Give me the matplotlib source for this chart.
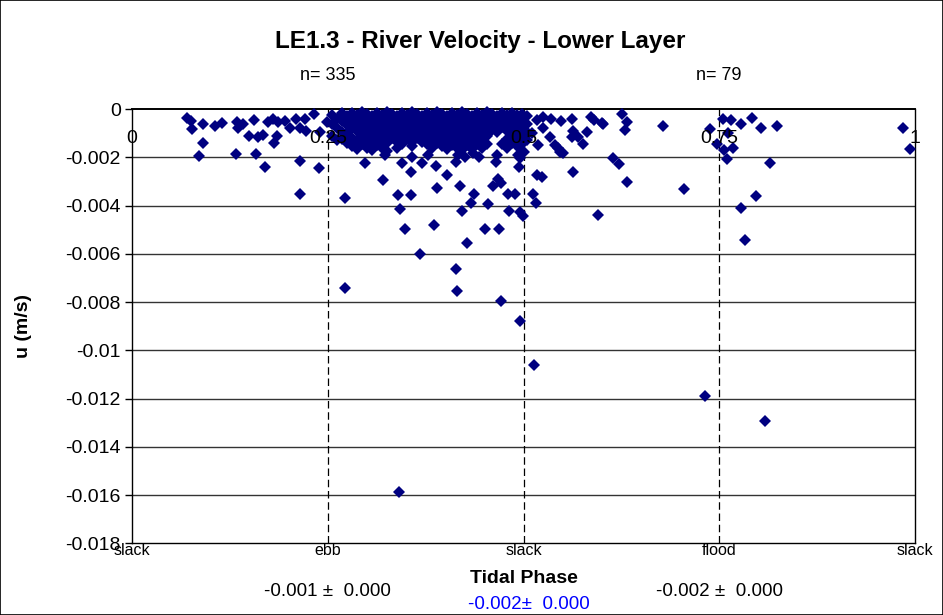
import matplotlib.pyplot as plt

# dense cluster around ebb -> slack, one column per phase, u in m/s
core_phase = [0.2554, 0.2618, 0.2682, 0.2746, 0.2810, 0.2874, 0.2937, 0.3001,
              0.3065, 0.3129, 0.3193, 0.3257, 0.3321, 0.3384, 0.3448, 0.3512,
              0.3576, 0.3640, 0.3704, 0.3768, 0.3831, 0.3895, 0.3959, 0.4023,
              0.4087, 0.4151, 0.4215, 0.4278, 0.4342, 0.4406, 0.4470, 0.4534,
              0.4598, 0.4662, 0.4725, 0.4789, 0.4853, 0.4917, 0.4981, 0.5045]
core_u = [
    [-0.00025, -0.0006, -0.0011],
    [-0.0004, -0.0008, -0.0013],
    [-0.00015, -0.0005, -0.00095, -0.00125],
    [-0.0003, -0.00065, -0.001, -0.0014],
    [-0.00015, -0.00045, -0.0008, -0.0012, -0.00155],
    [-0.00025, -0.0006, -0.0009, -0.0013, -0.00165],
    [-0.00012, -0.0004, -0.00075, -0.0011, -0.00145],
    [-0.0002, -0.00055, -0.0009, -0.00125, -0.0016],
    [-0.0003, -0.00065, -0.001, -0.00135, -0.0017],
    [-0.00015, -0.00045, -0.0008, -0.00115, -0.0015],
    [-0.00025, -0.00055, -0.00095, -0.0013, -0.0016],
    [-0.00012, -0.0004, -0.0007, -0.00105, -0.0014, -0.00175],
    [-0.0002, -0.0005, -0.00085, -0.0012],
    [-0.0003, -0.0006, -0.00095, -0.00135, -0.0016],
    [-0.00015, -0.00045, -0.00075, -0.0011, -0.00145],
    [-0.00025, -0.00055, -0.0009, -0.00125],
    [-0.00012, -0.0004, -0.0007, -0.001, -0.00135, -0.00155],
    [-0.0002, -0.0005, -0.00085, -0.0012],
    [-0.0003, -0.00065, -0.001, -0.00135],
    [-0.00015, -0.00045, -0.00075, -0.0011, -0.00145],
    [-0.00025, -0.0006, -0.0009, -0.00125, -0.0016],
    [-0.00012, -0.0004, -0.0007, -0.00105, -0.0014],
    [-0.0002, -0.00055, -0.00085, -0.0012, -0.00155],
    [-0.0003, -0.00065, -0.001, -0.0013, -0.00165],
    [-0.00015, -0.00045, -0.0008, -0.00115, -0.0015],
    [-0.00025, -0.00055, -0.0009, -0.00125, -0.0016],
    [-0.00012, -0.0004, -0.0007, -0.00105, -0.0014, -0.0017],
    [-0.0002, -0.0005, -0.00085, -0.0012, -0.0015],
    [-0.0003, -0.00065, -0.00095, -0.0013, -0.00165],
    [-0.00015, -0.00045, -0.0008, -0.0011, -0.00145],
    [-0.00025, -0.0006, -0.0009, -0.00125, -0.0016],
    [-0.00012, -0.0004, -0.00075, -0.0011, -0.00145],
    [-0.0002, -0.0005, -0.00085],
    [-0.0003, -0.0006, -0.00095],
    [-0.00015, -0.00045, -0.00075, -0.00145],
    [-0.00025, -0.00055, -0.0009, -0.00125, -0.0016],
    [-0.00015, -0.0004, -0.0007, -0.00105, -0.0014],
    [-0.00025, -0.00055, -0.0009, -0.00125, -0.00155],
    [-0.0002, -0.00045, -0.0008, -0.00115, -0.00145, -0.00175],
    [-0.0003, -0.0006, -0.00095, -0.0013],
]

# scattered points, read one by one
scatter_phase = [
    0.0706, 0.0750, 0.0760, 0.0910, 0.1060, 0.1146, 0.1337, 0.1358, 0.1421, 0.1558,
    0.1498, 0.1613, 0.1677, 0.1733, 0.1797, 0.1848, 0.1814, 0.1868, 0.1954, 0.2018,
    0.2094, 0.2146, 0.2210, 0.2222, 0.2324, 0.2401, 0.2487, 0.0910, 0.0852, 0.1324,
    0.1580, 0.1699, 0.2146, 0.2388, 0.2146,
    0.2720, 0.3210, 0.3400, 0.3444, 0.3570, 0.3560, 0.3560, 0.2976, 0.3230, 0.3700,
    0.3423, 0.3487, 0.3860, 0.3680, 0.4210, 0.4325, 0.4370, 0.4543, 0.4274, 0.4510,
    0.4690, 0.4806, 0.4890, 0.4820, 0.4955, 0.4990, 0.5117, 0.5160, 0.4138, 0.4155,
    0.4709, 0.4958, 0.3899, 0.4606, 0.2720, 0.3406, 0.5132,
    0.3882, 0.4018, 0.4189, 0.4679, 0.4649, 0.4946, 0.4138, 0.4250, 0.4433, 0.4955,
    0.5005, 0.4709, 0.3780, 0.4163, 0.4355, 0.4660, 0.4930,
    0.5615, 0.5862, 0.5904, 0.5999, 0.5807, 0.5628, 0.5615, 0.5692, 0.5764, 0.5475,
    0.5347, 0.5253, 0.5168, 0.5253, 0.5338, 0.5402, 0.5444, 0.5500, 0.5189, 0.5104,
    0.6140, 0.6220, 0.5628, 0.5168, 0.5240, 0.6318, 0.5466,
    0.6262, 0.6326, 0.6296, 0.6011, 0.6782, 0.5947, 0.7050,
    0.7382, 0.7544, 0.7646, 0.7778, 0.7914, 0.8033, 0.8233, 0.7475, 0.7560, 0.7680,
    0.7603, 0.7616, 0.8148, 0.9843, 0.9936, 0.7969, 0.7774, 0.7833, 0.7318, 0.8088,
]
scatter_u = [
    -0.00035, -0.00049, -0.00082, -0.00063, -0.00068, -0.00058, -0.00052, -0.00077, -0.00063, -0.00046,
    -0.0011, -0.00117, -0.00107, -0.00054, -0.0004, -0.0011, -0.00142, -0.00054, -0.00049, -0.00079,
    -0.0004, -0.00079, -0.0004, -0.0009, -0.00021, -0.00096, -0.00052, -0.00142, -0.00195, -0.00188,
    -0.00188, -0.00239, -0.00215, -0.00246, -0.00353,
    -0.00368, -0.00295, -0.00357, -0.00225, -0.00197, -0.0026, -0.00357, -0.00225, -0.0019, -0.00225,
    -0.00415, -0.00496, -0.00479, -0.006, -0.00423, -0.00389, -0.00353, -0.00395, -0.00554, -0.00496,
    -0.00496, -0.00353, -0.00353, -0.00423, -0.00427, -0.00445, -0.00353, -0.00389, -0.00663, -0.00753,
    -0.00795, -0.00878, -0.00327, -0.00318, -0.00742, -0.01589, -0.01061,
    -0.00235, -0.00274, -0.00318, -0.00288, -0.00221, -0.00239, -0.00218, -0.00197, -0.00197, -0.00204,
    -0.00178, -0.00308, -0.0019, -0.0019, -0.0018, -0.0019, -0.0019,
    -0.0004, -0.00031, -0.00045, -0.00058, -0.00096, -0.0009, -0.00114, -0.00114, -0.00146, -0.00049,
    -0.0004, -0.00031, -0.00045, -0.00079, -0.00114, -0.00149, -0.00163, -0.00181, -0.00149, -0.001,
    -0.00204, -0.00228, -0.0026, -0.00274, -0.00281, -0.00302, -0.00177,
    -0.0002, -0.00052, -0.00086, -0.00061, -0.00068, -0.0044, -0.00333,
    -0.00082, -0.0004, -0.00047, -0.00061, -0.00035, -0.00079, -0.00068, -0.00146, -0.0017, -0.0016,
    -0.00208, -0.001, -0.00222, -0.00079, -0.00167, -0.0036, -0.00408, -0.00542, -0.01188, -0.01295,
]

phase_ticks = [0, 0.25, 0.5, 0.75, 1]
phase_names = ['slack', 'ebb', 'slack', 'flood', 'slack']
u_ticks = [0, -0.002, -0.004, -0.006, -0.008, -0.01, -0.012, -0.014, -0.016, -0.018]
u_labels = ['0', '-0.002', '-0.004', '-0.006', '-0.008', '-0.01', '-0.012', '-0.014', '-0.016', '-0.018']
divider_phase = [0.25, 0.5, 0.75]
count_text = ['n= 335', 'n= 79']
stat_text = ['-0.001 \u00b1  0.000', '-0.002 \u00b1  0.000']
overall_text = '-0.002\u00b1  0.000'

plt.rcParams['font.family'] = ['Liberation Sans', 'DejaVu Sans']

fig = plt.figure(figsize=(9.43, 6.15), dpi=100)
ax = fig.add_axes([0.1400, 0.1166, 0.8303, 0.7060])

xs = []
ys = []
for p, col in zip(core_phase, core_u):
    for u in col:
        xs.append(p)
        ys.append(u)
xs += scatter_phase
ys += scatter_u

ax.set_xlim(0, 1)
ax.set_ylim(-0.018, 0)

for u in u_ticks[1:-1]:
    ax.axhline(u, color='#333333', lw=1.0, zorder=1)
for p in divider_phase:
    ax.axvline(p, color='black', lw=0.9, linestyle=(0, (6, 3)), zorder=1)

ax.plot(xs, ys, linestyle='none', marker='D', markersize=6.2,
        color='#000080', markeredgewidth=0, zorder=3, clip_on=False)

for s in ax.spines.values():
    s.set_color('black')
    s.set_linewidth(1.0)
ax.spines['top'].set_linewidth(1.4)

ax.set_yticks(u_ticks)
ax.set_yticklabels(u_labels, fontsize=14)
ax.tick_params(axis='y', length=5, width=1, pad=3)

ax.set_xticks(phase_ticks)
ax.set_xticklabels(phase_names, fontsize=11.5)
ax.tick_params(axis='x', length=0, pad=0)

for p in phase_ticks:
    ax.annotate(f'{p:g}', (p, 0), xytext=(0, -21), textcoords='offset points',
                ha='center', va='center', fontsize=14)

ax.set_ylabel('u (m/s)', fontsize=14, fontweight='bold', labelpad=24)

fig.text(0.509, 0.932, 'LE1.3 - River Velocity - Lower Layer',
         ha='center', va='center', fontsize=17.5, fontweight='bold')

for p, t in zip([0.25, 0.75], count_text):
    ax.annotate(t, (p, 0), xytext=(0, 24), textcoords='offset points',
                ha='center', va='center', fontsize=13)
for p, t in zip([0.25, 0.75], stat_text):
    ax.annotate(t, (p, -0.018), xytext=(0, -35), textcoords='offset points',
                ha='center', va='center', fontsize=13.5)
ax.annotate(overall_text, (0.5, -0.018), xytext=(4, -44), textcoords='offset points',
            ha='center', va='center', fontsize=13.5, color='#0000ff')
ax.annotate('Tidal Phase', (0.5, -0.018), xytext=(0, -25), textcoords='offset points',
            ha='center', va='center', fontsize=14, fontweight='bold')

fig.patches.append(plt.Rectangle((0, 0), 1, 1, transform=fig.transFigure,
                                 fill=False, edgecolor='black', lw=1.2))

fig.savefig('out.png', dpi=100)
